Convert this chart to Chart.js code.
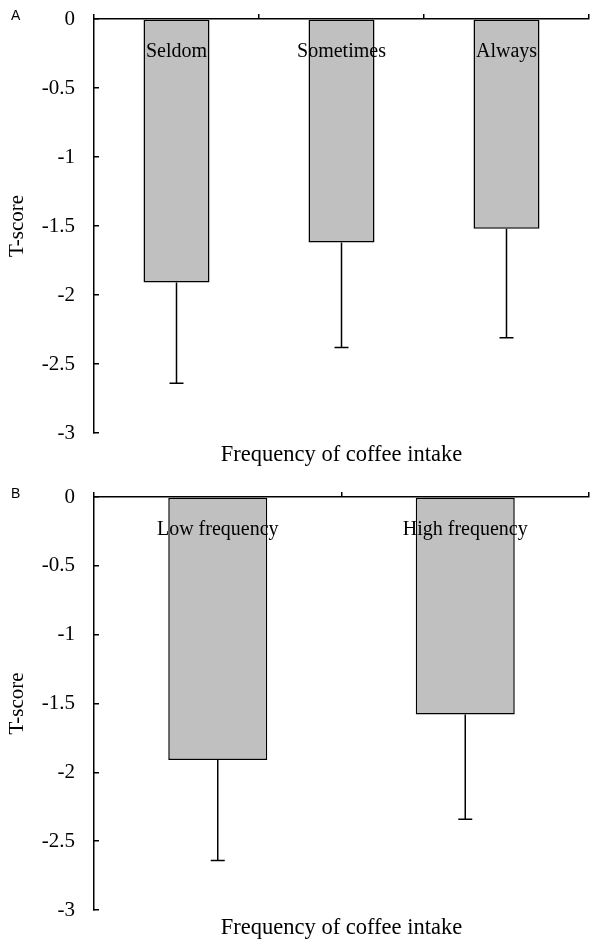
<!DOCTYPE html>
<html lang="en">
<head>
  <meta charset="UTF-8">
  <title>T-score by frequency of coffee intake</title>
  <style>
    body {
      margin: 0;
      padding: 0;
      background-color: #ffffff;
    }
    .page {
      position: relative;
      width: 600px;
      height: 950px;
    }
    .panel {
      position: absolute;
      left: 0;
      width: 600px;
    }
    #panelA { top: 0; height: 478px; }
    #panelB { top: 478px; height: 472px; }
  </style>
</head>
<body>
  <div class="page">
    <div class="panel" id="panelA"><canvas id="chartA"></canvas></div>
    <div class="panel" id="panelB"><canvas id="chartB"></canvas></div>
  </div>

  <script src="https://cdn.jsdelivr.net/npm/chart.js"></script>
  <script>
    // Panel A - three frequency groups
    const categoriesA = ['Seldom', 'Sometimes', 'Always'];
    const meansA = [-1.91, -1.62, -1.52];
    const errorsA = [0.73, 0.76, 0.79];

    // Panel B - two frequency groups
    const categoriesB = ['Low frequency', 'High frequency'];
    const meansB = [-1.91, -1.58];
    const errorsB = [0.73, 0.76];

    const yTicks = [0, -0.5, -1, -1.5, -2, -2.5, -3];
    const xTitle = 'Frequency of coffee intake';
    const yTitle = 'T-score';

    const serif = "'Liberation Serif', 'Times New Roman', serif";

    // error bars, labels inside the plot, panel letter and bottom title
    const extrasPlugin = {
      id: 'extras',
      afterDatasetsDraw(chart, args, opts) {
        const ctx = chart.ctx;
        const x = chart.scales.x;
        const y = chart.scales.y;
        const area = chart.chartArea;
        const values = chart.data.datasets[0].data;

        ctx.save();
        ctx.strokeStyle = '#000';
        ctx.lineWidth = 1.5;
        opts.errors.forEach((err, i) => {
          const px = x.getPixelForValue(i);
          const y0 = y.getPixelForValue(values[i]);
          const y1 = y.getPixelForValue(values[i] - err);
          ctx.beginPath();
          ctx.moveTo(px, y0);
          ctx.lineTo(px, y1);
          ctx.moveTo(px - 7, y1);
          ctx.lineTo(px + 7, y1);
          ctx.stroke();
        });

        ctx.fillStyle = '#000';
        ctx.font = '20px ' + serif;
        ctx.textAlign = 'center';
        ctx.textBaseline = 'alphabetic';
        chart.data.labels.forEach((lab, i) => {
          ctx.fillText(lab, x.getPixelForValue(i), area.top + 38);
        });

        ctx.font = '22.5px ' + serif;
        ctx.fillText(xTitle, (area.left + area.right) / 2, area.bottom + opts.titleGap);

        ctx.font = "14px 'Liberation Sans', Arial, sans-serif";
        ctx.textAlign = 'left';
        ctx.fillText(opts.letter, 11, 20);
        ctx.restore();
      }
    };

    function makeChart(canvasId, labels, means, errors, letter, titleGap, bottomPad) {
      return new Chart(document.getElementById(canvasId), {
        type: 'bar',
        data: {
          labels: labels,
          datasets: [{
            data: means,
            backgroundColor: '#c0c0c0',
            borderColor: '#000',
            borderWidth: 1.5,
            borderSkipped: false,
            categoryPercentage: 1,
            barPercentage: 0.4
          }]
        },
        options: {
          responsive: true,
          maintainAspectRatio: false,
          animation: false,
          layout: { padding: { left: 0, right: 11, top: 0, bottom: bottomPad } },
          plugins: {
            legend: { display: false },
            tooltip: { enabled: false },
            extras: { errors: errors, letter: letter, titleGap: titleGap }
          },
          scales: {
            x: {
              position: 'top',
              afterFit: s => { s.height = 19; },
              border: { display: true, color: '#000', width: 1.5 },
              grid: { drawOnChartArea: false, drawTicks: true, tickLength: 5, color: '#000', lineWidth: 1.5 },
              ticks: { display: false }
            },
            y: {
              min: -3,
              max: 0,
              afterFit: s => {
                s.width = 94;
                // ticks.padding would otherwise push the plot down
                s.paddingTop = 12;
                s.paddingBottom = 12;
              },
              afterBuildTicks: s => { s.ticks = yTicks.map(v => ({ value: v })); },
              border: { display: true, color: '#000', width: 1.5 },
              grid: { drawOnChartArea: false, drawTicks: true, tickLength: -5, color: '#000', lineWidth: 1.5 },
              ticks: {
                color: '#000',
                padding: 24,
                font: { family: serif, size: 21 },
                callback: v => String(v)
              },
              title: {
                display: true,
                text: yTitle,
                color: '#000',
                font: { family: serif, size: 21 },
                padding: { top: 5, bottom: 0 }
              }
            }
          }
        },
        plugins: [extrasPlugin]
      });
    }

    makeChart('chartA', categoriesA, meansA, errorsA, 'A', 28, 45);
    makeChart('chartB', categoriesB, meansB, errorsB, 'B', 24, 40);
  </script>
</body>
</html>
